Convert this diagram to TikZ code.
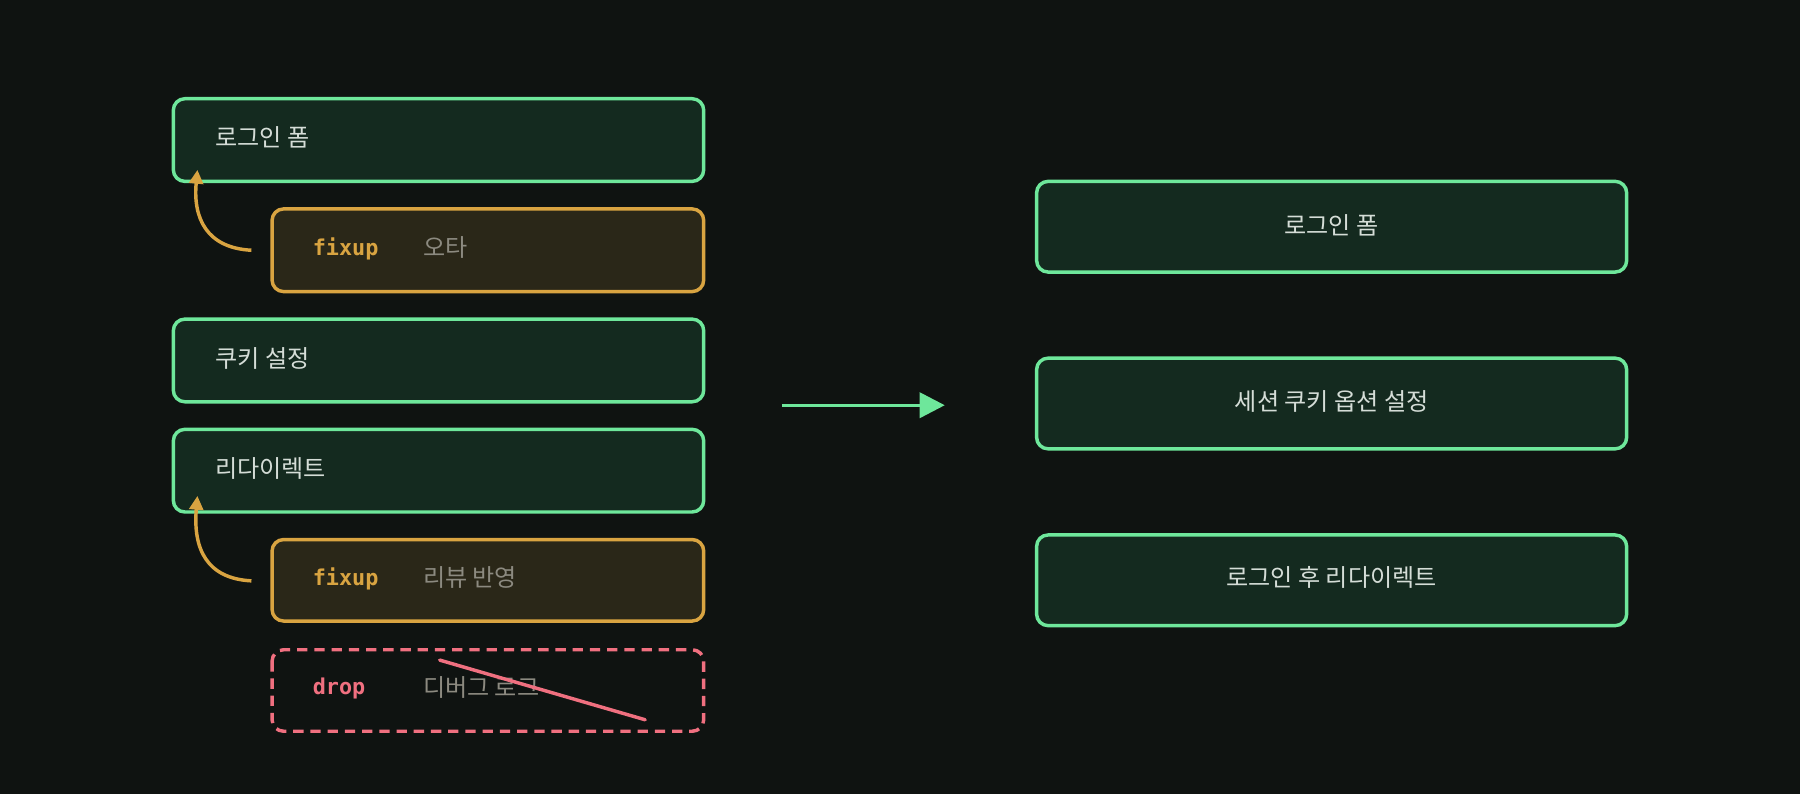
\documentclass[tikz,border=0pt]{standalone}
\usepackage{fontspec}
\setmainfont{Noto Sans CJK KR}
\newfontfamily\codefont{DejaVu Sans Mono}
\usetikzlibrary{arrows.meta}
\definecolor{bgc}{HTML}{0F1311}
\definecolor{grn}{HTML}{6EE79B}
\definecolor{grnfill}{HTML}{142A1F}
\definecolor{org}{HTML}{D9A441}
\definecolor{orgfill}{HTML}{2A2718}
\definecolor{red}{HTML}{F07080}
\definecolor{txt}{HTML}{D5DDD7}
\definecolor{dim}{HTML}{8C8A80}
\tikzset{every picture/.style={line width=3pt}}
\tikzset{
  commit/.style={draw=grn,fill=grnfill,rounded corners=10pt,line width=3pt},
  fixbox/.style={draw=org,fill=orgfill,rounded corners=10pt,line width=3pt},
  dropbox/.style={draw=red,dash pattern=on 9pt off 6pt,rounded corners=10pt,line width=3pt},
  lbl/.style={anchor=west,inner sep=0pt,text=txt,font=\fontsize{21}{25}\selectfont},
  mid/.style={inner sep=0pt,text=txt,font=\fontsize{21}{25}\selectfont},
  tag/.style={anchor=west,inner sep=0pt,font=\codefont\bfseries\fontsize{19}{23}\selectfont}
}
\begin{document}
\begin{tikzpicture}[x=1pt,y=1pt,yscale=-1,xscale=1]
\fill[bgc] (0,0) rectangle (1568,692);
\useasboundingbox (0,0) rectangle (1568,692);

% left: history before squash
\draw[commit] (151,86) rectangle (613,158);
\node[lbl] (login) at (186,120) {로그인 폼};
\draw[fixbox] (237,182) rectangle (613,254);
\node[tag,text=org] (fix1) at (271,217) {fixup};
\node[lbl,text=dim] (typo) at (367,216) {오타};
\draw[commit] (151,278) rectangle (613,350);
\node[lbl] (cookie) at (186,312) {쿠키 설정};
\draw[commit] (151,374) rectangle (613,446);
\node[lbl] (redirect) at (186,408) {리다이렉트};
\draw[fixbox] (237,470) rectangle (613,541);
\node[tag,text=org] (fix2) at (271,504) {fixup};
\node[lbl,text=dim] (review) at (367,503) {리뷰 반영};
\draw[dropbox] (237,566) rectangle (613,637);
\node[tag,text=red] (drop) at (271,600) {drop};
\node[lbl,text=dim] (debug) at (367,599) {디버그 로그};
\draw[red,line cap=round] (383,575) -- (562,627);

% fixup arrows
\draw[org,-{Triangle[length=12pt,width=12pt]}] (219,218) .. controls (180,216) and (168,190) .. (172,148);
\draw[org,-{Triangle[length=12pt,width=12pt]}] (219,506) .. controls (180,504) and (168,478) .. (172,432);

% main arrow
\draw[grn,-{Triangle[length=22pt,width=22pt]}] (681,353) -- (823,353);

% right: history after squash
\draw[commit] (903,158) rectangle (1417,237);
\node[mid] (rlogin) at (1160,196) {로그인 폼};
\draw[commit] (903,312) rectangle (1417,391);
\node[mid] (rcookie) at (1160,350) {세션 쿠키 옵션 설정};
\draw[commit] (903,466) rectangle (1417,545);
\node[mid] (rredirect) at (1160,503) {로그인 후 리다이렉트};

\end{tikzpicture}
\end{document}
